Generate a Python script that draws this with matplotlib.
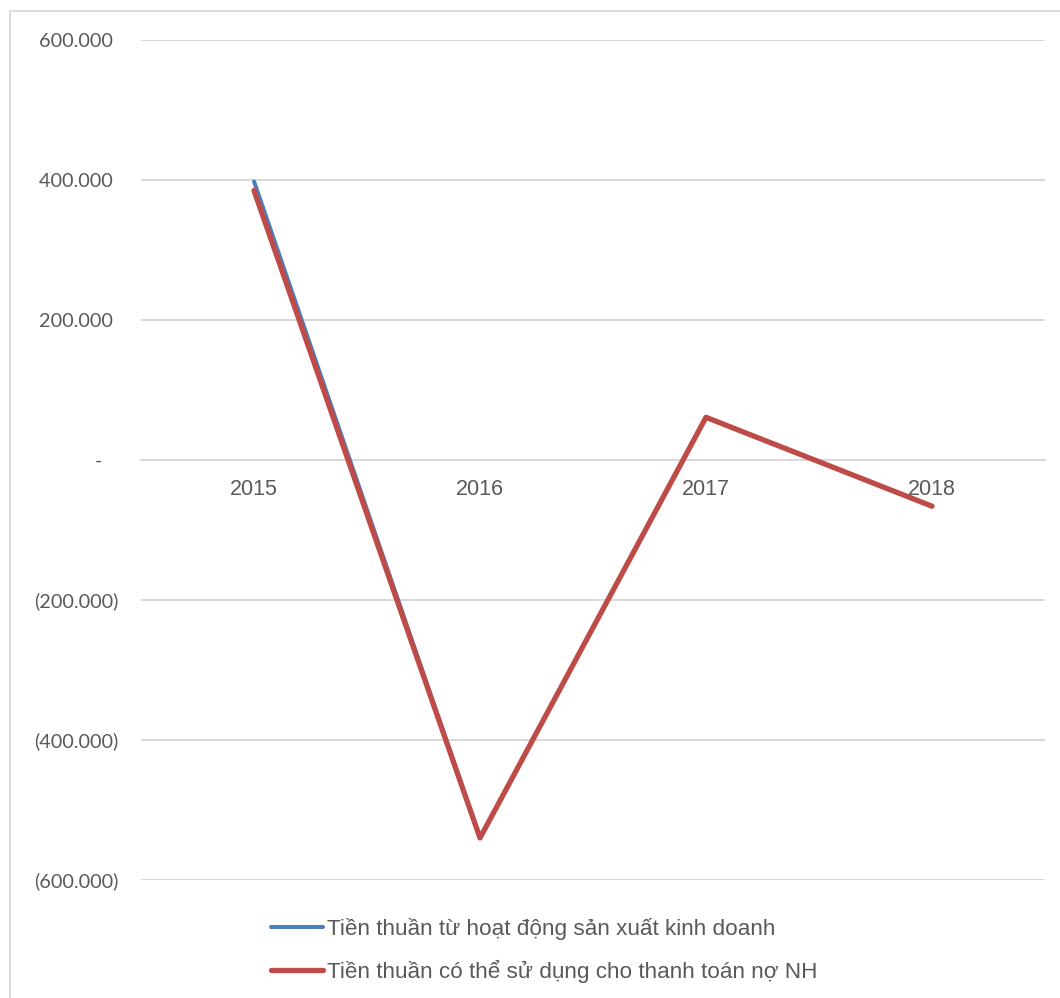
import matplotlib.pyplot as plt
from matplotlib.patches import Rectangle

# data
years = ["2015", "2016", "2017", "2018"]
tien_sxkd = [398000, -540000, 61000, -66000]
tien_tra_no = [385000, -540000, 61000, -66000]
y_ticks = [-600000, -400000, -200000, 0, 200000, 400000, 600000]
y_tick_labels = ["(600.000)", "(400.000)", "(200.000)", "-   ", "200.000 ", "400.000 ", "600.000 "]

label_sxkd = "Tiền thuần từ hoạt động sản xuất kinh doanh"
label_tra_no = "Tiền thuần có thể sử dụng cho thanh toán nợ NH"

W, H = 1060, 998
fig = plt.figure(figsize=(W / 100, H / 100), dpi=100)
fig.patch.set_facecolor("white")

# light outer frame of the chart area (cut off at right/bottom)
fig.patches.append(Rectangle((10 / W, -0.05), 1.1, 1 - 11 / H + 0.05,
                             transform=fig.transFigure, fill=False,
                             edgecolor="#d9d9d9", linewidth=1.3))

ax = fig.add_axes([141 / W, 1 - 880 / H, (1045 - 141) / W, (880 - 40) / H])

# category axis sits on the zero line (set before tick labels, it resets them)
ax.spines["bottom"].set_position(("data", 0))
ax.spines["bottom"].set_color("#d9d9d9")
ax.spines["bottom"].set_linewidth(1.4)
for s in ["top", "left", "right"]:
    ax.spines[s].set_visible(False)

x = range(len(years))
ax.plot(x, tien_sxkd, color="#4a7ebb", linewidth=2.9, solid_capstyle="round",
        solid_joinstyle="round", label=label_sxkd, zorder=3)
ax.plot(x, tien_tra_no, color="#be4b48", linewidth=3.8, solid_capstyle="round",
        solid_joinstyle="round", label=label_tra_no, zorder=4)

ax.set_xlim(-0.5, 3.5)
ax.set_ylim(-600000, 600000)
ax.set_yticks(y_ticks)
ax.set_yticklabels(y_tick_labels, fontfamily="Lato", fontsize=14.3, color="#595959")
ax.tick_params(axis="y", length=0, pad=16.5)
ax.yaxis.grid(True, color="#d9d9d9", linewidth=1.4)
ax.set_axisbelow(True)

ax.set_xticks(list(x))
ax.set_xticklabels(years, fontfamily="Liberation Sans", fontsize=15.5, color="#595959")
ax.tick_params(axis="x", length=0, pad=14)

fig.legend(loc="upper left", bbox_to_anchor=(271 / W, 1 - 918 / H),
           frameon=False, prop={"family": "Liberation Sans", "size": 16.2},
           labelcolor="#595959", handlelength=2.3, handletextpad=0.2,
           labelspacing=0.88, borderpad=0, borderaxespad=0)

fig.savefig("out.png", dpi=100)
